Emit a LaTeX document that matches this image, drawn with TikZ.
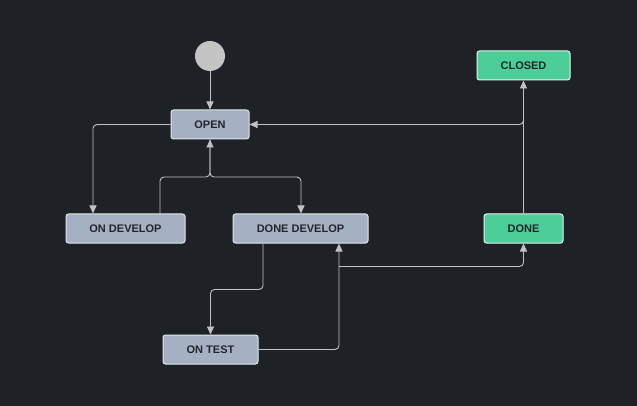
\documentclass[tikz,border=0pt]{standalone}
\usepackage{fontspec}
\setmainfont{Liberation Sans}
\usetikzlibrary{arrows.meta,calc}
\definecolor{bg}{HTML}{1E2126}
\definecolor{nodegray}{HTML}{A5B1C2}
\definecolor{nodeborder}{HTML}{E2E6EB}
\definecolor{nodegreen}{HTML}{4BCE97}
\definecolor{greenborder}{HTML}{E8F6EF}
\definecolor{txt}{HTML}{22262C}
\definecolor{edge}{HTML}{C2C2C2}
\definecolor{startc}{HTML}{C4C4C4}
\tikzset{
  state/.style={rectangle, rounded corners=2.5pt, draw=nodeborder, fill=nodegray, line width=1pt,
    minimum height=29pt, inner sep=0pt, text=txt,
    font=\bfseries\fontsize{11}{13}\selectfont},
  greenstate/.style={state, fill=nodegreen, draw=greenborder},
  conn/.style={draw=edge, line width=0.9pt, rounded corners=4pt, -{Triangle[width=7pt,length=8pt]}},
}
\begin{document}
\begin{tikzpicture}[x=1pt,y=-1pt]
\fill[bg] (0,0) rectangle (637,406);
\useasboundingbox (0,0) rectangle (637,406);
\node[circle, fill=startc, minimum size=30pt, inner sep=0pt] (start) at (210,56) {};
\node[state, minimum width=78pt] (open) at (210,124.5) {OPEN};
\node[greenstate, minimum width=93pt] (closed) at (523.5,65.5) {CLOSED};
\node[state, minimum width=119pt] (ondev) at (125.5,228.5) {ON DEVELOP};
\node[state, minimum width=135pt] (donedev) at (300.5,228.5) {DONE DEVELOP};
\node[greenstate, minimum width=79pt] (done) at (523.5,228.5) {DONE};
\node[state, minimum width=95pt] (ontest) at (210.5,349.5) {ON TEST};
\coordinate (j) at (210,177);
% start -> open
\draw[conn] (start) -- (open);
% open -> on develop
\draw[conn] (open.west) -| ([xshift=-32.5pt]ondev.north);
% on develop -> open
\draw[conn] ([xshift=34.5pt]ondev.north) |- (j) -- (open.south);
% open -> done develop
\draw[conn] (open.south) -- (j) -| ([xshift=0.5pt]donedev.north);
% done develop -> on test
\draw[conn] ([xshift=-37.5pt]donedev.south) -- ++(0,46) -| (ontest.north);
% on test -> done develop
\draw[conn] (ontest.east) -| ([xshift=38.5pt]donedev.south);
% done develop -> done
\draw[conn] ($(donedev.south)+(38.5,23)$) -| (done.south);
% done -> closed
\draw[conn] (done.north) -- (closed.south);
% closed -> open
\draw[conn] ($(closed.south)+(0,30)$) |- (open.east);
\end{tikzpicture}
\end{document}
